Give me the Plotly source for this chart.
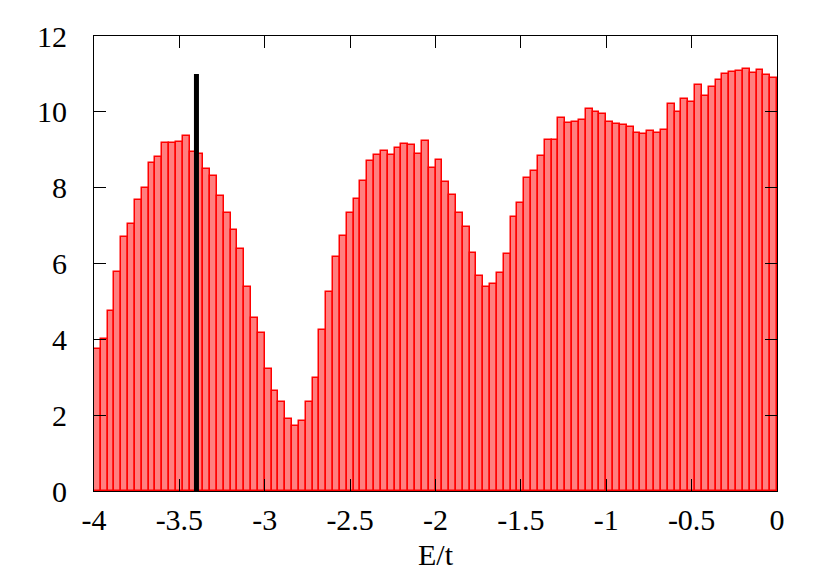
import plotly.graph_objects as go

# Histogram: bin width 0.04 from E/t = -4 to 0 (100 bins)
bin_start = -4.0
bin_width = 0.04
dos_values = [
    3.74, 4.00, 4.75, 5.77, 6.69, 7.05, 7.67, 7.99, 8.65, 8.81,
    9.19, 9.19, 9.21, 9.35, 8.95, 8.90, 8.49, 8.32, 7.78, 7.33,
    6.88, 6.37, 5.39, 4.56, 4.16, 3.21, 2.65, 2.36, 1.90, 1.71,
    1.84, 2.34, 2.97, 4.25, 5.25, 6.16, 6.72, 7.32, 7.70, 8.18,
    8.70, 8.86, 8.97, 8.86, 9.05, 9.16, 9.13, 8.90, 9.24, 8.52,
    8.73, 8.15, 7.81, 7.34, 6.96, 6.27, 5.68, 5.39, 5.46, 5.76,
    6.26, 7.23, 7.59, 8.25, 8.43, 8.83, 9.26, 9.27, 9.85, 9.70,
    9.72, 9.79, 10.07, 10.00, 9.93, 9.73, 9.68, 9.65, 9.60, 9.44,
    9.42, 9.50, 9.43, 9.52, 10.21, 9.99, 10.33, 10.25, 10.71, 10.42,
    10.66, 10.85, 11.01, 11.05, 11.07, 11.14, 11.03, 11.11, 10.97, 10.89,
]
bin_centers = [bin_start + bin_width * (i + 0.5) for i in range(len(dos_values))]

# Vertical marker line
marker_x = [-3.4, -3.4]
marker_y = [0, 11]

x_tickvals = [-4, -3.5, -3, -2.5, -2, -1.5, -1, -0.5, 0]
x_ticktext = ["-4", "-3.5", "-3", "-2.5", "-2", "-1.5", "-1", "-0.5", "0"]
y_tickvals = [0, 2, 4, 6, 8, 10, 12]
y_ticktext = ["0", "2", "4", "6", "8", "10", "12"]

FONT = "Liberation Serif"

fig = go.Figure()
fig.add_trace(go.Bar(
    x=bin_centers, y=dos_values, width=bin_width,
    marker=dict(color="rgba(255,0,0,0.5)", line=dict(color="#ff0000", width=1.5)),
    showlegend=False, hoverinfo="x+y",
))
fig.add_trace(go.Scatter(
    x=marker_x, y=marker_y, mode="lines",
    line=dict(color="black", width=5), showlegend=False,
))

fig.update_layout(
    width=830, height=585,
    margin=dict(l=94, r=53, t=36, b=94),
    paper_bgcolor="white", plot_bgcolor="white",
    bargap=0,
    font=dict(family=FONT, size=30, color="black"),
)
fig.update_xaxes(
    range=[-4, 0], tickvals=x_tickvals, ticktext=x_ticktext,
    ticks="inside", ticklen=12, tickwidth=1, tickcolor="black",
    showline=True, linecolor="black", linewidth=1, mirror="ticks",
    showgrid=False, zeroline=False,
    ticklabelstandoff=2,
    title=dict(text="E/t", font=dict(family=FONT, size=30), standoff=8),
)
fig.update_yaxes(
    range=[0, 12], tickvals=y_tickvals, ticktext=y_ticktext,
    ticks="inside", ticklen=12, tickwidth=1, tickcolor="black",
    showline=True, linecolor="black", linewidth=1, mirror="ticks",
    showgrid=False, zeroline=False,
    ticklabelstandoff=20,
)

fig.write_html(
    "out.html",
    config={"displayModeBar": False},
    post_script="document.body.style.margin='0';document.body.style.overflow='hidden';",
)
